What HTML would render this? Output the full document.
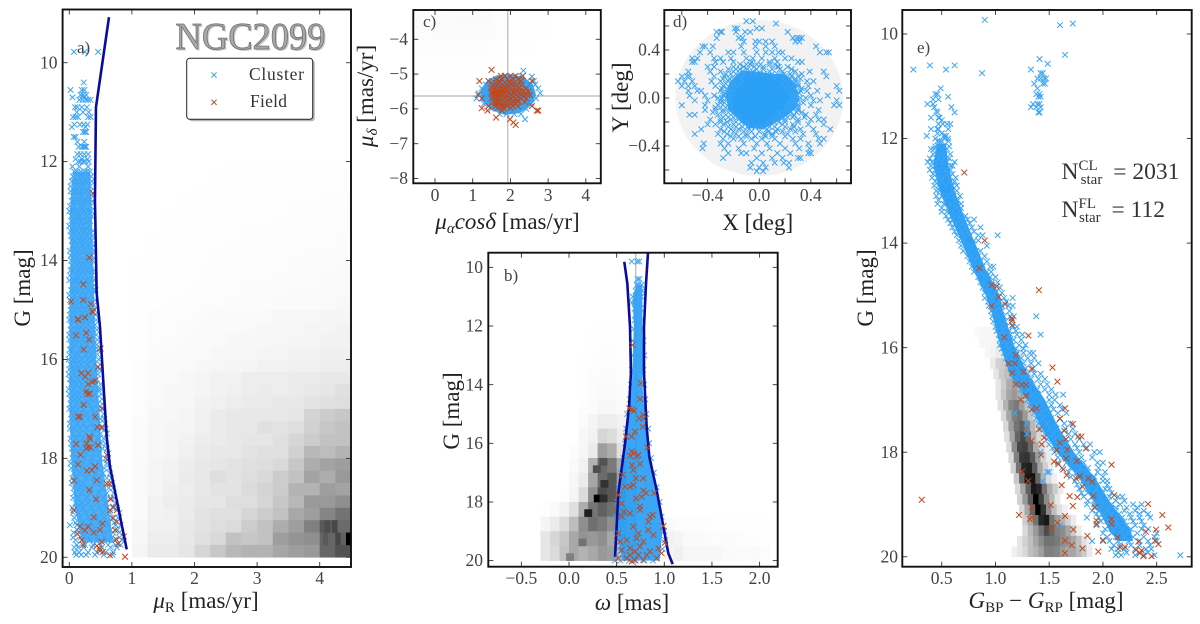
<!DOCTYPE html>
<html lang="en">
<head>
<meta charset="utf-8">
<title>NGC2099 membership panels</title>
<style>
html,body{margin:0;padding:0;background:#fff;width:1200px;height:624px;overflow:hidden}
svg{display:block;filter:blur(.35px)}
text{font-family:"Liberation Serif",serif;fill:#333}
.lab{font-size:23px;fill:#222}
.tick{font-size:17.5px;fill:#444}
.pl{font-size:17px;fill:#444}
</style>
</head>
<body>
<svg id="figure" xmlns="http://www.w3.org/2000/svg" width="1200" height="624" viewBox="0 0 1200 624">
<defs>
<clipPath id="clip-a"><rect x="62.6" y="9.5" width="288.4" height="557.5"/></clipPath>
<clipPath id="clip-b"><rect x="488.3" y="252.7" width="289.4" height="314"/></clipPath>
<clipPath id="clip-c"><rect x="413.3" y="10" width="187.5" height="173.3"/></clipPath>
<clipPath id="clip-d"><rect x="664.3" y="10" width="186.7" height="173.3"/></clipPath>
<clipPath id="clip-e"><rect x="902.3" y="10" width="289.4" height="556.7"/></clipPath>
</defs>
<g id="panel-a"></g>
<g id="panel-b"></g>
<g id="panel-c"></g>
<g id="panel-d"></g>
<g id="panel-e"></g>

<text class="lab" x="206" y="608" text-anchor="middle"><tspan font-style="italic">μ</tspan><tspan font-size="15" dy="4">R</tspan><tspan dy="-4"> [mas/yr]</tspan></text>
<text class="lab" transform="translate(30,288) rotate(-90)" text-anchor="middle">G [mag]</text>
<text class="lab" x="632" y="610" text-anchor="middle"><tspan font-style="italic">ω</tspan> [mas]</text>
<text class="lab" transform="translate(459,411) rotate(-90)" text-anchor="middle">G [mag]</text>
<text class="lab" x="507.5" y="229" text-anchor="middle"><tspan font-style="italic">μ</tspan><tspan font-size="15" font-style="italic" dy="4">α</tspan><tspan font-style="italic" dy="-4">cosδ</tspan> [mas/yr]</text>
<text class="lab" transform="translate(373,96) rotate(-90)" text-anchor="middle"><tspan font-style="italic">μ</tspan><tspan font-size="15" font-style="italic" dy="4">δ</tspan><tspan dy="-4"> [mas/yr]</tspan></text>
<text class="lab" x="757.7" y="230" text-anchor="middle">X [deg]</text>
<text class="lab" transform="translate(628,97.5) rotate(-90)" text-anchor="middle">Y [deg]</text>
<text class="lab" x="1046" y="608" text-anchor="middle"><tspan font-style="italic">G</tspan><tspan font-size="15" dy="4">BP</tspan><tspan dy="-4"> − </tspan><tspan font-style="italic">G</tspan><tspan font-size="15" dy="4">RP</tspan><tspan dy="-4"> [mag]</tspan></text>
<text class="lab" transform="translate(873,288) rotate(-90)" text-anchor="middle">G [mag]</text>

<text class="pl" x="77" y="53">a)</text>
<text class="pl" x="504" y="281">b)</text>
<text class="pl" x="423" y="27">c)</text>
<text class="pl" x="673" y="27">d)</text>
<text class="pl" x="917" y="53">e)</text>

<g>
<text x="177" y="50.5" font-size="38" textLength="150" lengthAdjust="spacingAndGlyphs" style="fill:#c8c8c8">NGC2099</text>
<text x="175.5" y="49" font-size="38" textLength="150" lengthAdjust="spacingAndGlyphs" style="fill:#a8a8a8;stroke:#707070;stroke-width:.8">NGC2099</text>
</g>

<g>
<rect x="188.7" y="60.3" width="126" height="61" rx="3" fill="#b5b5b5"/>
<rect x="186.7" y="58.3" width="126" height="61" rx="3" fill="#fff" stroke="#222" stroke-width="1"/>
<path d="M211.4 72.4L216.6 77.6M211.4 77.6L216.6 72.4" stroke="#3ca4f5" stroke-width="1"/>
<text x="249" y="80" font-size="17.5" textLength="55">Cluster</text>
<path d="M211.4 99.7L216.6 104.9M211.4 104.9L216.6 99.7" stroke="#c0481c" stroke-width="1"/>
<text x="250" y="107" font-size="17.5" textLength="37">Field</text>
</g>

<text x="1061.5" y="179" font-size="23.5" style="fill:#333">N<tspan font-size="15" dy="-9">CL</tspan><tspan font-size="15" dx="-17" dy="14">star</tspan><tspan dy="-5" dx="5"> = 2031</tspan></text>
<text x="1061.5" y="217" font-size="23.5" style="fill:#333">N<tspan font-size="15" dy="-9">FL</tspan><tspan font-size="15" dx="-17" dy="14">star</tspan><tspan dy="-5" dx="5"> = 112</tspan></text>
</svg>

<script>
/* ---------- panel a: proper motion vs G ---------- */
const pmLimitMu=[0.634,0.426,0.41,0.437,0.49,0.597,0.65,0.757,0.917];
const pmLimitG=[9.08,10.9,12.78,14.66,15.34,17.56,18.17,18.84,19.84];
const pmBandG=[12.2,13,14,15,16,17,18,19,19.7];
const pmBandLeft=[0.06,0.01,0.02,0.0,0.0,0.0,0.03,0.09,0.2];
const pmBandRight=[0.33,0.36,0.38,0.4,0.43,0.48,0.52,0.63,0.7];
const pmHeatMu0=1.0,pmHeatDmu=0.25,pmHeatG0=12,pmHeatDg=0.25;
const pmHeat=[
[0,0,0,0,0,0,.3,.3,.3,.3,.5,.5,.5,.5],[0,0,0,0,0,.3,.3,.3,.5,.5,.5,.5,.5,.5],[0,0,0,0,.3,.3,.3,.5,.5,.5,.5,.5,.7,.7],[0,0,0,.3,.3,.3,.5,.5,.5,.5,.7,.7,.7,.7],
[0,0,.3,.3,.3,.5,.5,.5,.5,.7,.7,.7,1,1],[0,0,.3,.3,.5,.5,.5,.7,.7,.7,1,1,1,1],[0,.3,.3,.5,.5,.5,.7,.7,.7,1,1,1,1,1.5],[0,.3,.3,.5,.5,.7,.7,1,1,1,1,1.5,1.5,1.5],
[.3,.3,.5,.5,.7,.7,1,1,1,1,1.5,1.5,1.5,2],[.3,.3,.5,.5,.7,1,1,1,1,1.5,1.5,1.5,2,2],[.3,.5,.5,.7,1,1,1,1.5,1.5,1.5,2,2,2,2.5],[.3,.5,.7,.7,1,1,1.5,1.5,1.5,2,2,2,2.5,3],
[.5,1,1,1,1.5,2,2,2,2.5,3,3,3,4,4],[.5,1,1,1.5,2,2,2,2.5,3,3,3.5,4,4,5],[.5,1,1.5,2,2,2.5,3,3,3,3.5,4,4,5,5],[.5,1.5,2,2,2.5,3,3,3.5,4,4,5,5,6,6],
[1,2,2,2.5,3,3.5,4,4,5,5,6,6,7,7],[1,2,2.5,3,4,5,5,7,7,7,8,8,9,9],[1,2,3,3,4,5,6,7,8,7,8,9,10,12],[1,2.5,3,3,5,6,7,8,8,9,9,11,12,13],
[1,3,3,4,6,8,9,9,9,9,10,17,20,22],[1.5,3,4,4,6,8,9,9,12,11,13,18,22,24],[1.5,3,4,5,7,8,9,10,10,12,16,20,24,24],[1.5,3,4,6,8,9,9,11,12,12,18,28,26,30],
[2,4,5,7,9,10,11,12,13,15,22,32,36,38],[2,4,5,8,9,13,11,13,15,20,24,36,32,40],[2,4,6,7,9,11,11,14,17,20,30,30,38,36],[2,5,7,8,10,10,13,13,16,22,28,40,40,44],
[2,5,6,8,11,12,12,16,20,24,34,38,48,55],[3,6,6,9,11,13,14,20,24,32,38,50,65,58],[3,7,7,9,12,15,24,22,24,38,42,44,60,62],[4,8,8,10,16,22,28,30,30,35,38,40,60,68]];
const pmHot=[[4.42,19.5,100],[4.08,19.25,70],[4.2,19.25,72],[4.05,19.5,65],[4.25,19.5,72]];
const pmCluster=[[9.78,[.075,.25,.46]],[10.4,[.23]],[10.55,[.02,.2,.24]],[10.65,[.18,.22,.27]],[10.75,[.16,.21,.26,.3,.34]],[10.9,[.09,.13,.2,.28]],[11.1,[.06,.1,.14,.3,.34]],[11.25,[.08,.17,.23,.29]],[11.4,[.22,.25,.27]],[11.5,[.07,.1]],[11.7,[.15,.2,.23,.25,.27]],[11.85,[.13,.18,.24,.3]],[12,[.14,.18,.22,.26,.31]],[12.2,[.08,.12,.18,.24,.28,.33]],[12.4,[.04,.08,.13,.19,.25,.3,.36]],
[12.6,[.02,.07,.11,.17,.22,.28,.34]],[12.8,[.04,.09,.15,.21,.26,.31,.37]],[13,[.0,.05,.1,.16,.23,.3,.35]],[13.2,[.03,.08,.14,.19,.27,.33]],[13.4,[.02,.06,.12,.2,.25,.32,.38]],[13.6,[.04,.09,.17,.22,.29,.36]],[13.8,[.01,.07,.13,.19,.26,.34,.4]],[14,[.03,.1,.16,.24,.3,.37]],[14.2,[.02,.06,.14,.21,.28,.35,.4]],[14.4,[.0,.08,.12,.18,.27,.33,.39]],[14.6,[.03,.09,.15,.23,.3,.38,.42]],[14.8,[.01,.06,.13,.2,.28,.35,.41]],[15,[.02,.08,.16,.25,.32,.4]],[15.2,[.0,.05,.11,.19,.27,.36,.43]],[15.4,[.02,.09,.15,.22,.31,.38,.44]],[15.6,[.0,.07,.13,.21,.29,.37,.45]],[15.8,[.01,.05,.17,.24,.33,.41,.46]],[16,[-.01,.06,.12,.2,.3,.38,.47]],[16.2,[.0,.08,.15,.26,.35,.43,.48]],[16.4,[.01,.05,.13,.22,.32,.4,.44]],[16.6,[-.01,.07,.18,.27,.38,.46,.5]],[16.8,[.02,.09,.16,.25,.34,.42,.52]],[17,[.0,.06,.14,.23,.36,.47,.54]],[17.2,[.03,.1,.19,.3,.44,.5,.56]],[17.4,[.01,.08,.17,.28,.4,.52,.58]],[17.6,[.02,.11,.21,.33,.46,.55]],[17.8,[.04,.09,.18,.3,.43,.53,.6]],[18,[.05,.13,.24,.36,.5,.58,.62]],[18.2,[.03,.1,.2,.32,.45,.56,.64]],[18.4,[.05,.12,.26,.38,.48,.6,.67]],[18.6,[.07,.16,.24,.35,.52,.63,.7]],[18.8,[.06,.14,.28,.42,.55,.66,.72]],[19,[.05,.11,.22,.36,.48,.6,.7,.76]],[19.2,[.08,.17,.3,.44,.56,.68,.78]],[19.35,[.01,.12,.25,.38,.5,.62,.74,.82]],[19.5,[.07,.15,.28,.42,.58,.7,.8]],[19.65,[.1,.2,.33,.46,.6,.72,.84]],[19.8,[.08,.14,.23,.36,.52,.66,.76]],[19.95,[.11,.19,.27,.41,.55,.69]]];
const pmClusterExtra=[[10.7,[.24,.05]],[11.0,[.12,.22,.31]],[11.3,[.04,.26]],[11.6,[.13,.24]],[11.95,[.1,.2,.29]],[12.1,[.05,.16,.3]],[12.3,[.06,.15,.21,.29,.35]],[12.5,[.02,.1,.16,.23,.33]],[12.7,[.05,.13,.2,.3,.38]],[12.9,[.01,.08,.18,.24,.34]],[13.1,[.03,.12,.17,.28,.36]],[13.3,[.0,.07,.15,.22,.31]],[13.5,[.03,.1,.18,.27,.37]],[13.7,[.05,.13,.21,.3,.39]],[13.9,[.02,.09,.16,.28,.36]],[14.1,[.04,.12,.19,.26,.34]],[14.3,[.01,.1,.17,.25,.37]],[14.5,[.05,.14,.22,.31,.4]],[14.7,[.0,.08,.18,.26,.36]],[14.9,[.04,.11,.2,.29,.39]],[15.1,[.01,.09,.17,.27,.35,.42]],[15.3,[.03,.13,.21,.3,.41]],[15.5,[.0,.06,.18,.26,.36,.43]],[15.7,[.03,.1,.2,.28,.39,.44]],[15.9,[.0,.08,.15,.27,.36,.45]],[16.1,[.02,.1,.19,.29,.4,.49]],[16.3,[-.01,.07,.16,.24,.37,.46]],[16.5,[.03,.11,.2,.3,.42,.5]],[16.7,[.0,.08,.15,.29,.4,.51]],[16.9,[.02,.12,.21,.32,.45,.53]],[17.1,[.04,.09,.17,.27,.41,.55]],[17.3,[.01,.13,.23,.35,.48,.57]],[17.5,[.05,.16,.26,.37,.5,.6]],[17.7,[.03,.12,.24,.4,.51,.58]],[17.9,[.06,.15,.27,.38,.48,.62]],[18.1,[.02,.11,.22,.34,.47,.6]],[18.3,[.07,.17,.29,.42,.54,.65]],[18.5,[.04,.14,.22,.4,.5,.68]],[18.7,[.08,.19,.33,.47,.6,.71]],[18.9,[.1,.2,.3,.45,.58,.74]],[19.1,[.06,.15,.26,.4,.53,.65,.8]],[19.3,[.1,.21,.35,.47,.6,.72]],[19.45,[.13,.24,.37,.5,.66,.77]],[19.6,[.06,.18,.3,.44,.56,.68,.8]],[19.75,[.12,.25,.38,.5,.62,.74,.82]],[19.9,[.09,.16,.3,.44,.58,.7]]];
const pmField=[[.38,12.64],[.32,13.94],[.225,14.48],[.027,14.83],[.225,14.8],[.347,14.88],[.37,15.02],[.14,15.19],[.25,15.15],[.14,15.2],[.38,15.04],[.11,15.51],[.27,15.46],[.32,15.6],[.23,15.8],[.5,15.78],[.46,16.15],[.19,16.28],[.3,16.28],[.25,16.35],[.41,16.43],[.37,16.45],[.3,16.5],[.27,16.65],[.33,16.69],[.29,16.7],[.23,16.92],[.52,16.99],[.14,17.16],[.17,17.16],[.41,17.16],[.45,17.37],[.52,17.37],[.32,17.56],[.33,17.6],[.11,17.71],[.28,17.7],[.3,17.77],[.27,17.8],[.34,17.78],[.46,17.73],[.18,17.93],[.6,17.93],[.61,18.03],[.14,18.12],[.28,18.25],[.36,18.24],[.41,18.16],[.07,18.45],[.44,18.44],[.6,18.51],[.64,18.51],[.32,18.64],[.43,18.83],[.66,18.83],[.7,18.98],[.07,19.05],[.65,19.05],[.76,19.05],[.39,19.19],[.53,19.32],[.7,19.21],[.76,19.28],[.17,19.38],[.3,19.38],[.25,19.46],[.13,19.53],[.39,19.5],[.49,19.45],[.73,19.45],[.87,19.58],[.75,19.64],[.2,19.65],[.22,19.75],[.44,19.77],[.48,19.82],[.54,19.89],[.49,19.87],[.78,19.73],[.65,19.96],[.89,19.99],[.52,19.69]];
const pmXTicks=[0,1,2,3,4];
const pmXLabels=["0","1","2","3","4"];
const pmYTicks=[10,12,14,16,18,20];
const pmYLabels=["10","12","14","16","18","20"];

/* ---------- panel b: parallax vs G ---------- */
const plxLeftOmega=[0.58,0.612,0.64,0.65,0.63,0.588,0.518,0.483];
const plxLeftG=[9.81,10.55,12.02,13.6,14.75,16.0,17.7,19.87];
const plxRightOmega=[0.829,0.808,0.787,0.787,0.815,0.843,0.92,0.99,1.042,1.088];
const plxRightG=[9.5,10.55,12.02,13.6,15.44,16.46,17.6,18.84,19.75,20.12];
const plxMeanOmega=0.7;
const plxBandG=[10.6,11,12,13,14,15,16,17,18,19,20];
const plxBandLeft=[.71,.67,.68,.67,.66,.63,.6,.56,.53,.5,.56];
const plxBandRight=[.77,.77,.77,.78,.77,.8,.83,.88,.93,.98,.95];
const plxHeatOmega0=-0.3,plxHeatDomega=0.1,plxHeatG0=12,plxHeatDg=0.5;
const plxHeat=[
[0,0,0,0,0,.3,.5,.5,.3,0],[0,0,0,0,0,.5,.7,.7,.5,0],[0,0,0,0,.3,.7,1,1,.7,.5],[0,0,0,0,.5,1,1.5,1.5,1,.5],[0,0,0,0,.5,1,2,2,1,.5],[0,0,0,0,.7,1.5,3,3,2,1],
[0,0,0,0,1.5,4,7,7,5,3],[0,0,0,0,3,5,16,14,8,4],[0,0,0,1,3,8,38,32,12,5],[0,0,0,2,5,30,58,52,32,10],[0,0,0,3,8,35,58,66,38,15],[0,0,1,4,14,44,70,66,38,15],[.5,2,5,12,32,54,62,56,38,20],[4,8,14,26,44,56,52,44,28,15],[10,16,22,34,42,40,44,34,26,15],[10,14,24,34,30,34,40,38,24,10]];
const plxFarOmega0=1.0,plxFarDomega=0.1,plxFarG0=18.5,plxFarDg=0.5;
const plxFar=[[2,1,1,1,.7,.5,.5,.3,.3,.3,.3],[5,4,2,2,1.5,1,1.5,1,.7,.7,.5],[4,6,3,3,3,3,2,2,1.5,2,1]];
const plxHot=[[.26,17.75,100],[.32,17.75,82],[.16,18.25,88],[.32,16.5,68],[.25,16.75,70],[.33,17.25,80],[.1,19.25,55],[-.03,19.75,50]];
const plxCluster=[[9.8,[.658,.717,.738]],[10.4,[.72,.74]],[10.6,[.71,.73,.76]],[10.8,[.7,.73,.77]],[11,[.67,.7,.74,.76]],[11.2,[.66,.69,.73]],[11.4,[.69,.72,.75]],[11.6,[.7,.74]],[11.8,[.69,.72,.76]],[12.1,[.68,.71,.75,.77]],[12.5,[.67,.72,.78]],[13,[.67,.73,.79]],[13.5,[.66,.71,.78]],[14,[.65,.72,.79]],[14.5,[.64,.7,.78,.8]],[15,[.61,.66,.75,.81]],[15.5,[.6,.68,.77,.83]],[16,[.59,.66,.76,.84]],[16.5,[.57,.62,.78,.86]],[17,[.54,.6,.8,.89]],[17.5,[.52,.58,.82,.92]],[18,[.51,.57,.84,.95]],[18.5,[.49,.55,.88,.97]],[19,[.49,.54,.9,1.0]],[19.3,[.5,.58,.72,.86,.94,1.01]],[19.6,[.52,.6,.7,.82,.9,.98]],[19.8,[.5,.57,.66,.74,.85,.93]],[20,[.48,.54,.63,.7,.79,.88]]];
const plxField=[[.665,12.65],[.752,13.95],[.745,14.49],[.633,14.81],[.658,14.86],[.78,15.03],[.682,14.89],[.738,15.15],[.78,15.15],[.773,15.43],[.693,15.6],[.598,15.77],[.658,15.77],[.822,16.14],[.658,16.28],[.682,16.34],[.64,16.43],[.71,16.45],[.728,16.4],[.658,16.74],[.675,16.91],[.745,16.7],[.563,17.08],[.703,17.19],[.78,17.19],[.64,17.48],[.588,17.48],[.675,17.42],[.892,17.7],[.518,17.76],[.762,17.82],[.78,17.61],[.808,17.7],[.553,18.05],[.703,17.88],[.745,18.16],[.745,18.27],[.577,18.33],[.64,18.39],[.553,18.5],[.85,18.5],[.878,18.44],[.832,18.67],[.99,18.82],[.518,19.07],[.675,18.84],[.728,19.07],[.832,18.95],[1.007,19.39],[.535,19.35],[.605,19.3],[.71,19.24],[.78,19.35],[.885,19.13],[.64,19.58],[.745,19.52],[.85,19.69],[.937,19.58],[.553,19.64],[.693,19.69],[.815,19.81],[.972,19.75],[.605,19.92],[.658,20.03],[.728,19.81],[.518,19.92],[.78,19.98],[.92,19.92],[.64,19.81],[.693,19.98]];
const plxXTicks=[-0.5,0,0.5,1,1.5,2];
const plxXLabels=["−0.5","0.0","0.5","1.0","1.5","2.0"];
const plxYTicks=[10,12,14,16,18,20];
const plxYLabels=["10","12","14","16","18","20"];

/* ---------- panel c: vector point diagram ---------- */
const vpdMeanAlpha=1.93;
const vpdMeanDelta=-5.63;
const vpdHeatAlpha0=-0.5,vpdHeatDalpha=0.5,vpdHeatDelta0=-5,vpdHeatDdelta=0.5;
const vpdHeat=[[.3,.3,.3,.3,.2,0,0,0,0,0],[.7,.7,.7,.7,.5,.3,0,0,0,0],[1,1.5,1.5,1.5,1,.5,.3,0,0,0],[1,1.5,2,2,1,.5,.3,0,0,0]];
const vpdHullAlpha=[1.22,1.4,1.65,2.0,2.35,2.6,2.68,2.55,2.25,1.85,1.48,1.22];
const vpdHullDelta=[-5.42,-5.17,-5.03,-5.0,-5.08,-5.3,-5.6,-5.9,-6.12,-6.17,-6.02,-5.72];
const vpdCluster=[[-4.9,[2.345]],[-5.07,[1.9,2.1,2.3,2.57]],[-5.2,[1.5,1.72,2.2,2.45,2.62]],[-5.3,[1.35,1.6,2.05,2.5,2.66]],[-5.41,[1.24,1.45,1.9,2.35,2.74]],[-5.55,[1.16,1.32,1.75,2.42,2.79]],[-5.7,[1.1,1.28,1.55,2.55,2.68]],[-5.85,[1.3,1.48,2.3,2.56]],[-6.0,[1.5,1.75,2.0,2.22,2.42]],[-6.15,[1.72,1.9,2.1,2.28]],[-6.3,[2.39]]];
const vpdField=[[-4.88,[1.5]],[-5.05,[1.75,1.85,2.0,2.14,2.33]],[-5.15,[1.62,1.78,1.92,2.08,2.2]],[-5.2,[1.18,1.42,1.7,1.98,2.28,2.57]],[-5.3,[1.55,1.65,1.8,1.9,2.02,2.15,2.3]],[-5.4,[1.48,1.58,1.68,1.76,1.86,2.0,2.12,2.24,2.42]],[-5.5,[1.5,1.6,1.66,1.74,1.82,1.94,2.08,2.2,2.36,2.48]],[-5.6,[1.15,1.54,1.62,1.7,1.78,1.9,2.02,2.16,2.3,2.45,2.52]],[-5.7,[1.24,1.5,1.6,1.68,1.76,1.86,2.0,2.14,2.28,2.42]],[-5.8,[1.58,1.66,1.74,1.84,1.96,2.1,2.2,2.38]],[-5.92,[1.42,1.6,1.72,1.8,1.92,2.05,2.2,2.57]],[-5.98,[1.24,1.66,1.82,2.0]],[-6.05,[1.39,1.78,2.7,2.74]],[-6.25,[1.62]],[-6.3,[1.99]],[-6.39,[2.08]],[-6.46,[2.14]]];
const vpdFieldCore=[[-5.25,[1.6,1.72,1.85,1.96,2.1]],[-5.35,[1.52,1.62,1.72,1.83,1.94,2.06,2.18]],[-5.45,[1.55,1.63,1.71,1.79,1.9,2.04,2.16,2.3]],[-5.55,[1.52,1.6,1.68,1.75,1.84,1.96,2.1,2.26,2.4]],[-5.65,[1.56,1.64,1.72,1.8,1.94,2.08,2.22,2.35]],[-5.75,[1.54,1.62,1.7,1.8,1.92,2.06,2.2]],[-5.85,[1.6,1.7,1.8,1.9,2.02,2.16]]];
const vpdXTicks=[0,1,2,3,4];
const vpdXLabels=["0","1","2","3","4"];
const vpdYTicks=[-4,-5,-6,-7,-8];
const vpdYLabels=["−4","−5","−6","−7","−8"];

/* ---------- panel d: sky map ---------- */
const skyFieldRadius=0.65;
const skyHullX=[-.26,-.23,-.14,-.02,.12,.2,.28,.31,.28,.2,.12,.03,-.08,-.16,-.24];
const skyHullY=[.03,.13,.23,.22,.2,.2,.11,-.01,-.09,-.16,-.21,-.26,-.25,-.18,-.1];
const skyCluster=[[.64,[-.1,-.05]],[.62,[.13]],[.58,[-.19,-.17,-.02,.02]],[.55,[-.33,-.3,-.29,-.18,-.11,-.07,.22]],[.5,[-.33,-.16,-.13,.26,.29,.31,.33]],[.47,[-.12,-.03,0,.05,.1,.28,.31]],[.43,[-.44,-.42,-.36,-.14,-.03,.05,.12,.44]],[.38,[-.46,-.38,-.24,-.2,-.12,-.02,.05,.1,.15,.18,.47,.52,.54]],[.33,[-.52,-.48,-.35,-.3,-.22,-.1,-.05,.02,.12,.2,.25]],[.3,[-.52,-.5,-.34,-.28,-.2,-.06,.08,.14,.3,.33]],[.26,[-.4,-.35,-.2,-.12,-.04,.03,.14,.15,.22]],[.22,[-.55,-.38,-.3,-.2,-.13,-.05,.08,.18,.28,.39,.5]],[.18,[-.6,-.56,-.54,-.35,-.27,-.16,.2,.25,.3,.52]],[.14,[-.63,-.58,-.52,-.37,-.3,-.24,.28,.37,.42]],[.1,[-.6,-.55,-.5,-.34,-.28,.3,.38,.6]],[.06,[-.55,-.48,-.45,-.3,.32,.37,.45,.62]],[.02,[-.54,-.42,-.35,-.28,.28,.4,.53]],[-.02,[-.5,-.4,-.3,.3,.42,.47,.6]],[-.06,[-.6,-.42,-.32,.3,.4,.58,.62]],[-.1,[-.42,-.34,-.28,.3,.46]],[-.14,[-.54,-.5,-.32,.27,.36,.44]],[-.18,[-.38,-.3,-.22,.2,.3,.4,.46,.5]],[-.22,[-.4,-.34,-.28,-.2,.18,.26,.38,.5]],[-.26,[-.45,-.3,-.22,-.16,-.08,.06,.14,.24,.32,.42,.55]],[-.3,[-.5,-.32,-.25,-.18,-.1,.04,.1,.22,.34,.44]],[-.34,[-.28,-.2,-.14,-.06,.02,.12,.26,.32,.46,.5]],[-.38,[-.43,-.3,-.24,-.12,-.02,.06,.16,.28,.38,.47]],[-.42,[-.44,-.27,-.16,-.04,.08,.2,.31,.39]],[-.46,[-.24,-.1,-.14,.02,.14,.24,.38,.4]],[-.5,[-.28,-.02,.1,.18,.3,.32]],[-.54,[-.06,.03,.12,.19,.23]],[-.58,[-.07,.0,.05,.23]],[-.61,[-.02,.03]]];
const skyClusterCore=[[.28,[-.15,-.1,-.07,-.02,.01,.08,.12]],[.24,[-.24,-.18,-.15,-.09,-.02,.03,.1,.16,.25]],[.2,[-.26,-.22,-.18,-.12,-.07,-.02,.04,.1,.14,.19,.24,.33]],[.16,[-.28,-.23,-.2,-.14,.12,.18,.24,.32,.28]],[.12,[-.26,-.22,-.19,-.14,.18,.22,.27,.3]],[.08,[-.29,-.25,-.22,-.18,.2,.24,.28,.33]],[.04,[-.27,-.24,-.21,.24,.27,.31]],[0,[-.32,-.29,-.25,-.22,.25,.28,.32,.36]],[-.04,[-.3,-.27,-.23,.23,.26,.29,.34]],[-.08,[-.34,-.3,-.26,-.22,.21,.25,.3]],[-.12,[-.36,-.28,-.24,-.2,.16,.2,.24,.29,.33]],[-.16,[-.28,-.24,-.2,-.16,.13,.17,.22,.26,.35]],[-.2,[-.3,-.25,-.18,-.14,-.1,.06,.11,.15,.2,.3]],[-.24,[-.24,-.18,-.13,-.09,-.03,.02,.08,.12,.2,.27]],[-.28,[-.27,-.2,-.12,-.06,0,.07,.13,.18,.28]],[-.32,[-.22,-.16,-.1,-.03,.05,.1,.2]]];
const skyXTicks=[-.6,-.4,-.2,0,.2,.4,.6];
const skyXLabels=["","−0.4","","0.0","","0.4",""];
const skyYTicks=[.6,.4,.2,0,-.2,-.4,-.6];
const skyYLabels=["","0.4","","0.0","","−0.4",""];

/* ---------- panel e: colour-magnitude diagram ---------- */
const cmdHeatDcolor=0.05,cmdHeatDg=0.2;
const cmdHeatRowG=[15.6,15.8,16,16.2,16.4,16.6,16.8,17,17.2,17.4,17.6,17.8,18,18.2,18.4,18.6,18.8,19,19.2,19.4,19.6,19.8];
const cmdHeatRowColor=[.8,.85,.9,.95,.98,1,1,1.02,1.05,1.07,1.08,1.1,1.12,1.14,1.17,1.18,1.2,1.22,1.25,1.25,1.2,1.15];
const cmdHeatRowVals=[[2,3,3,3,4,5],[3,3,4,5,6],[3,5,8,10,12,14,8,4,2],[8,18,20,22,18,10,5,3],[10,20,25,30,22,14,8,4],[10,20,32,38,30,20,10,5],[10,22,35,40,32,22,12,6,3],[12,30,48,52,38,24,12,6,3],[15,35,50,55,40,22,12,6],[15,38,55,62,50,28,14,6],[12,35,60,72,58,30,15,6],[14,45,72,75,60,32,16,8],[15,50,78,80,65,38,18,8],[18,55,85,88,65,35,18,8],[22,60,90,92,60,30,14,6],[15,35,62,90,85,55,32,20,8],[18,40,65,100,75,45,28,10],[15,35,60,100,80,45,25,12,6],[20,35,55,85,90,55,38,30,18,8],[15,28,40,55,70,60,50,45,35,20,8],[10,18,25,35,45,55,55,52,45,42,35,25,12,6],[6,10,15,25,30,38,50,50,48,40,35,35,28,20,8]];
const cmdBandG=[12.1,12.5,13,13.5,14,14.5,15,15.3,16,16.5,17,17.5,18,18.5,19,19.5,19.7];
const cmdBandLeft=[.46,.42,.48,.58,.69,.79,.91,.96,1.05,1.13,1.3,1.42,1.57,1.78,1.93,2.06,2.14];
const cmdBandRight=[.54,.56,.62,.71,.81,.91,1.04,1.07,1.18,1.3,1.46,1.58,1.73,1.93,2.08,2.26,2.28];
const cmdCluster=[[9.73,[.9]],[9.8,[1.72]],[9.83,[1.6]],[10.4,[1.647]],[10.48,[1.41]],[10.57,[1.486]],[10.6,[.39,.62]],[10.68,[.236,.54,1.33]],[10.75,[.875,1.42,1.44]],[10.85,[1.39,1.42,1.45,1.47]],[10.95,[1.36,1.44,1.46]],[11.04,[.49,1.39]],[11.15,[.46,.44,1.38,1.41]],[11.2,[.56,1.4,1.42]],[11.34,[.367,.42,1.35,1.39,1.41]],[11.4,[.43,.59,1.33,1.38,1.42]],[11.5,[.62,.46,1.4,1.41]],[11.6,[.4,.48,.47]],[11.72,[.47,.51,.55,.58]],[11.82,[.4,.46,.56,.47]],[11.95,[.36,.52,.54]],[12.05,[.46,.48,.5,.56]],[12.15,[.44,.47,.52,.57]],[12.3,[.42,.45,.49,.53,.58]],[12.45,[.37,.41,.45,.5,.55,.62]],[12.6,[.39,.44,.48,.53,.58]],[12.75,[.41,.46,.51,.57,.63]],[12.9,[.43,.47,.54,.6,.64]],[13.1,[.45,.5,.56,.61,.67]],[13.25,[.46,.52,.58,.64,.68]],[13.4,[.5,.55,.6,.66]],[13.55,[.56,.6,.68,.74,.8]],[13.7,[.6,.66,.72,.78,.86]],[13.85,[.64,.7,.76,.84,.88,1.02]],[14.05,[.68,.74,.78,.92]],[14.25,[.74,.78,.84,.9]],[14.45,[.78,.84,.88,.95,.98]],[14.65,[.84,.9,.95,1.0]],[14.85,[.88,.93,.98,1.04]],[15.05,[.9,.96,1.02,1.08,1.16]],[15.2,[.94,.98,1.06,1.12,1.16]],[15.4,[.97,1.02,1.08,1.14,1.17,1.38]],[15.6,[1,1.05,1.1,1.16,1.2]],[15.75,[1.03,1.08,1.14,1.2,1.25,1.42]],[15.95,[1.04,1.1,1.16,1.22,1.28]],[16.1,[1.08,1.13,1.2,1.26,1.32,1.35]],[16.3,[1.12,1.18,1.26,1.33,1.4]],[16.5,[1.16,1.22,1.3,1.36,1.42]],[16.7,[1.22,1.28,1.35,1.42,1.48]],[16.9,[1.26,1.34,1.4,1.5,1.56,1.63]],[17.1,[1.32,1.38,1.44,1.52,1.6]],[17.25,[1.18,1.36,1.42,1.5,1.58,1.66]],[17.45,[1.29,1.4,1.48,1.56,1.64,1.7]],[17.65,[1.29,1.46,1.54,1.6,1.68,1.74]],[17.85,[1.5,1.58,1.64,1.74,1.82,1.88]],[18,[1.42,1.55,1.62,1.7,1.78,1.92,1.97]],[18.2,[1.58,1.66,1.72,1.82,1.95,2.0]],[18.38,[1.48,1.5,1.68,1.76,1.85,1.95,2.02]],[18.55,[1.44,1.74,1.82,1.9,2.0,2.04]],[18.7,[1.78,1.86,1.94,2.02,2.06]],[18.85,[1.82,1.9,1.98,2.06,2.14,2.18]],[19,[1.85,1.92,2.0,2.08,2.16,2.28,2.36]],[19.12,[1.9,1.96,2.04,2.12,2.2,2.3,2.38]],[19.25,[1.85,1.96,2.02,2.1,2.18,2.26,2.34,2.44]],[19.4,[1.6,1.94,2.06,2.14,2.22,2.3,2.38]],[19.55,[2.0,2.08,2.16,2.24,2.32,2.5]],[19.7,[1.9,2.0,2.06,2.14,2.24,2.34,2.42,2.5]],[19.85,[2.08,2.14,2.2,2.3,2.4,2.45]],[19.97,[2.12,2.17,2.3,2.38,2.48,2.72]]];
const cmdClusterExtra=[[11.25,[.47,.42]],[11.48,[.45]],[11.65,[.5]],[11.9,[.46,.5]],[12.0,[.44,.53,.56]],[12.2,[.4,.43,.5,.55]],[12.38,[.39,.47,.52,.57]],[12.52,[.4,.44,.58,.6]],[12.68,[.42,.47,.55,.6]],[12.82,[.44,.5,.58,.62]],[13.0,[.45,.48,.6,.64]],[13.18,[.47,.53,.62,.65]],[13.33,[.5,.56,.63,.68]],[13.48,[.54,.6,.66,.72]],[13.62,[.58,.63,.7,.76]],[13.78,[.62,.68,.74,.8]],[13.95,[.66,.7,.8,.84]],[14.15,[.7,.76,.82,.86]],[14.35,[.76,.8,.86,.92]],[14.55,[.8,.86,.92,.96]],[14.75,[.86,.9,.97,1.02]],[14.95,[.9,.94,1.0,1.06]],[15.12,[.93,.97,1.04,1.1]],[15.3,[.96,1.0,1.06,1.13]],[15.5,[.98,1.03,1.09,1.15]],[15.68,[1.01,1.07,1.13,1.19]],[15.85,[1.04,1.09,1.17,1.24]],[16.02,[1.06,1.12,1.19,1.26]],[16.2,[1.1,1.15,1.24,1.3,1.36]],[16.4,[1.14,1.2,1.28,1.35]],[16.6,[1.2,1.26,1.33,1.4,1.46]],[16.8,[1.24,1.31,1.39,1.46,1.52]],[17.0,[1.3,1.36,1.42,1.5,1.55]],[17.18,[1.34,1.4,1.47,1.54,1.62]],[17.35,[1.38,1.44,1.52,1.6]],[17.55,[1.42,1.5,1.57,1.65,1.72]],[17.75,[1.48,1.55,1.62,1.7,1.78]],[17.92,[1.53,1.6,1.67,1.76,1.85]],[18.1,[1.58,1.64,1.72,1.8,1.9]],[18.3,[1.62,1.7,1.78,1.86,1.96]],[18.47,[1.7,1.76,1.84,1.92,2.0]],[18.62,[1.76,1.82,1.88,1.95,2.04]],[18.78,[1.8,1.86,1.92,2.0,2.08]],[18.93,[1.86,1.92,1.98,2.05,2.12,2.2]],[19.06,[1.92,1.98,2.05,2.12,2.22,2.32]],[19.18,[1.94,2.0,2.08,2.15,2.25,2.34,2.42]],[19.32,[1.98,2.04,2.12,2.2,2.28,2.36]],[19.47,[2.02,2.1,2.18,2.26,2.36,2.42]],[19.62,[2.04,2.12,2.2,2.28,2.38,2.48]],[19.78,[2.1,2.16,2.26,2.34,2.44]],[19.92,[2.14,2.22,2.34,2.42]]];
const cmdField=[[.71,12.65],[.9,13.95],[.85,14.48],[.965,14.8],[1.01,14.83],[1.03,15.03],[1.09,15.17],[.965,15.2],[1.405,14.9],[1.15,15.44],[1.157,15.47],[1.157,15.57],[1.306,15.77],[1.083,15.8],[1.19,16.14],[1.53,16.38],[1.18,16.3],[1.12,16.3],[1.26,16.46],[1.337,16.41],[1.157,16.48],[1.576,16.65],[1.19,16.7],[1.244,16.71],[1.285,16.71],[1.285,16.92],[1.235,17.0],[1.647,17.16],[1.337,17.18],[1.384,17.16],[1.6,17.36],[1.72,17.46],[1.64,17.59],[1.405,17.56],[1.77,17.7],[1.8,17.7],[1.657,17.75],[1.452,17.72],[1.337,17.78],[1.43,17.85],[1.6,17.82],[1.84,17.93],[1.669,17.95],[1.57,17.96],[1.424,18.05],[1.657,18.12],[1.756,18.17],[1.545,18.18],[1.585,18.23],[2.08,18.24],[1.63,18.33],[1.247,18.37],[1.663,18.44],[1.75,18.5],[1.787,18.46],[1.306,18.55],[1.864,18.5],[1.9,18.56],[1.616,18.63],[1.81,18.66],[1.69,18.84],[1.762,18.86],[1.91,18.84],[2.106,18.82],[.314,18.91],[1.72,19.03],[1.514,19.01],[1.337,19.05],[1.926,19.05],[2.42,18.99],[1.22,19.2],[2.553,19.2],[1.337,19.25],[1.32,19.28],[1.647,19.22],[1.576,19.35],[2.08,19.28],[1.94,19.31],[1.94,19.37],[2.08,19.37],[1.523,19.46],[1.725,19.48],[2.608,19.44],[2.494,19.48],[2.4,19.52],[1.855,19.6],[2.137,19.63],[1.647,19.69],[2.0,19.68],[2.485,19.69],[2.516,19.76],[2.33,19.71],[1.71,19.78],[2.205,19.81],[2.16,19.82],[1.81,19.84],[1.957,19.9],[1.647,19.93],[2.308,19.87],[2.36,19.88],[2.376,19.99],[2.453,19.99],[2.345,19.93]];
const cmdXTicks=[.5,1,1.5,2,2.5];
const cmdXLabels=["0.5","1.0","1.5","2.0","2.5"];
const cmdYTicks=[10,12,14,16,18,20];
const cmdYLabels=["10","12","14","16","18","20"];

/* ---------- drawing helpers ---------- */
const NS='http://www.w3.org/2000/svg';
const CLUSTER='#3ca4f5',FIELD='#c0481c',LIMIT='#0b0b9c';

function makeAxes(groupId,clipId,box,xDomain,yDomain){
  const host=document.getElementById(groupId);
  const plot=document.createElementNS(NS,'g');
  plot.setAttribute('clip-path','url(#'+clipId+')');
  
  
  host.appendChild(plot);
  const sx=v=>box.left+(v-xDomain[0])/(xDomain[1]-xDomain[0])*(box.right-box.left);
  const sy=v=>box.top+(v-yDomain[0])/(yDomain[1]-yDomain[0])*(box.bottom-box.top);
  return {host,plot,box,sx,sy};
}
function heatCell(ax,x0,x1,y0,y1,d){
  if(d<=0)return;
  const r=document.createElementNS(NS,'rect');
  const g=Math.round(255*(1-d/100));
  const a=ax.sx(x0),b=ax.sx(x1),c=ax.sy(y0),e=ax.sy(y1);
  r.setAttribute('x',Math.min(a,b));
  r.setAttribute('y',Math.min(c,e));
  r.setAttribute('width',Math.abs(b-a)+.3);
  r.setAttribute('height',Math.abs(e-c)+.3);
  r.setAttribute('fill','rgb('+g+','+g+','+g+')');
  
  
  ax.plot.appendChild(r);
}
function heatGrid(ax,x0,dx,y0,dy,rows){
  rows.forEach((row,j)=>row.forEach((d,i)=>heatCell(ax,x0+i*dx,x0+(i+1)*dx,y0+j*dy,y0+(j+1)*dy,d)));
}
function refLine(ax,x1,y1,x2,y2){
  const l=document.createElementNS(NS,'line');
  l.setAttribute('x1',ax.sx(x1));
  l.setAttribute('y1',ax.sy(y1));
  l.setAttribute('x2',ax.sx(x2));
  l.setAttribute('y2',ax.sy(y2));
  l.setAttribute('stroke','#b8b8b8');
  l.setAttribute('stroke-width','1.2');
  
  
  ax.plot.appendChild(l);
}
function densityPolygon(ax,xs,ys,opacity){
  const p=document.createElementNS(NS,'polygon');
  p.setAttribute('points',xs.map((x,i)=>ax.sx(x)+','+ax.sy(ys[i])).join(' '));
  p.setAttribute('fill','#1e9af5');
  p.setAttribute('opacity',opacity);
  
  
  ax.plot.appendChild(p);
}
function bandPolygon(ax,gs,left,right,opacity){
  densityPolygon(ax,left.concat(right.slice().reverse()),gs.concat(gs.slice().reverse()),opacity);
}
function crossPath(x,y,s){return 'M'+(x-s)+' '+(y-s)+'L'+(x+s)+' '+(y+s)+'M'+(x-s)+' '+(y+s)+'L'+(x+s)+' '+(y-s);}
function clusterStar(ax,x,y){
  const m=document.createElementNS(NS,'path');
  m.setAttribute('d',crossPath(ax.sx(x),ax.sy(y),2.8));
  m.setAttribute('stroke',CLUSTER);
  m.setAttribute('fill','none');
  
  
  ax.plot.appendChild(m);
}
function fieldStar(ax,x,y){
  const m=document.createElementNS(NS,'path');
  m.setAttribute('d',crossPath(ax.sx(x),ax.sy(y),2.9));
  m.setAttribute('stroke',FIELD);
  m.setAttribute('fill','none');
  
  
  ax.plot.appendChild(m);
}
function limitLine(ax,xs,ys){
  const p=document.createElementNS(NS,'polyline');
  p.setAttribute('points',xs.map((x,i)=>ax.sx(x)+','+ax.sy(ys[i])).join(' '));
  p.setAttribute('fill','none');
  p.setAttribute('stroke',LIMIT);
  p.setAttribute('stroke-width','2.6');
  p.setAttribute('stroke-linejoin','round');
  
  
  ax.plot.appendChild(p);
}
function frameAndTicks(ax,xVals,xLabs,yVals,yLabs,xBase,yRight){
  const b=ax.box;
  const addTick=(x1,y1,x2,y2)=>{
    const t=document.createElementNS(NS,'line');
    t.setAttribute('x1',x1);
    t.setAttribute('y1',y1);
    t.setAttribute('x2',x2);
    t.setAttribute('y2',y2);
    t.setAttribute('stroke','#333');
    t.setAttribute('stroke-width','.9');
    
    
    ax.host.appendChild(t);
  };
  xVals.forEach((v,i)=>{
    const x=ax.sx(v);
    addTick(x,b.bottom,x,b.bottom-5);
    addTick(x,b.top,x,b.top+5);
    if(xLabs[i]){
      const t=document.createElementNS(NS,'text');
      t.setAttribute('x',x);
      t.setAttribute('y',xBase);
      t.setAttribute('text-anchor','middle');
      t.setAttribute('class','tick');
      
      
      t.textContent=xLabs[i];
      ax.host.appendChild(t);
    }
  });
  yVals.forEach((v,i)=>{
    const y=ax.sy(v);
    addTick(b.left,y,b.left+5,y);
    addTick(b.right,y,b.right-5,y);
    if(yLabs[i]){
      const t=document.createElementNS(NS,'text');
      t.setAttribute('x',yRight);
      t.setAttribute('y',y+5.6);
      t.setAttribute('text-anchor','end');
      t.setAttribute('class','tick');
      
      
      t.textContent=yLabs[i];
      ax.host.appendChild(t);
    }
  });
  const f=document.createElementNS(NS,'rect');
  f.setAttribute('x',b.left);
  f.setAttribute('y',b.top);
  f.setAttribute('width',b.right-b.left);
  f.setAttribute('height',b.bottom-b.top);
  f.setAttribute('fill','none');
  f.setAttribute('stroke','#111');
  f.setAttribute('stroke-width','1.9');
  
  
  ax.host.appendChild(f);
}
function rowsCluster(ax,rows){
  rows.forEach(r=>r[1].forEach(v=>clusterStar(ax,v,r[0])));
}
function rowsField(ax,rows){
  rows.forEach(r=>r[1].forEach(v=>fieldStar(ax,v,r[0])));
}

/* ---------- panel a ---------- */
(function(){
  const ax=makeAxes('panel-a','clip-a',{left:62.6,right:351,top:9.5,bottom:567},[-0.107,4.5],[8.924,20.197]);
  heatGrid(ax,pmHeatMu0,pmHeatDmu,pmHeatG0,pmHeatDg,pmHeat);
  pmHot.forEach(c=>heatCell(ax,c[0],c[0]+.08,c[1],c[1]+.25,c[2]));
  bandPolygon(ax,pmBandG,pmBandLeft,pmBandRight,.78);
  rowsCluster(ax,pmCluster);
  rowsCluster(ax,pmClusterExtra);
  pmField.forEach(p=>fieldStar(ax,p[0],p[1]));
  limitLine(ax,pmLimitMu,pmLimitG);
  frameAndTicks(ax,pmXTicks,pmXLabels,pmYTicks,pmYLabels,584,57.5);
})();
/* ---------- panel b ---------- */
(function(){
  const ax=makeAxes('panel-b','clip-b',{left:488.3,right:777.7,top:252.7,bottom:566.7},[-0.847,2.19],[9.5,20.207]);
  heatGrid(ax,plxHeatOmega0,plxHeatDomega,plxHeatG0,plxHeatDg,plxHeat);
  heatGrid(ax,plxFarOmega0,plxFarDomega,plxFarG0,plxFarDg,plxFar);
  plxHot.forEach(c=>heatCell(ax,c[0],c[0]+.08,c[1],c[1]+.25,c[2]));
  refLine(ax,plxMeanOmega,9.5,plxMeanOmega,20.2);
  bandPolygon(ax,plxBandG,plxBandLeft,plxBandRight,.88);
  rowsCluster(ax,plxCluster);
  limitLine(ax,plxLeftOmega,plxLeftG);
  limitLine(ax,plxRightOmega,plxRightG);
  plxField.forEach(p=>fieldStar(ax,p[0],p[1]));
  frameAndTicks(ax,plxXTicks,plxXLabels,plxYTicks,plxYLabels,584,483);
})();
/* ---------- panel c ---------- */
(function(){
  const ax=makeAxes('panel-c','clip-c',{left:413.3,right:600.8,top:10,bottom:183.3},[-0.576,4.398],[-3.158,-8.138]);
  vpdHeat.forEach((row,j)=>row.forEach((d,i)=>heatCell(ax,vpdHeatAlpha0+i*vpdHeatDalpha,vpdHeatAlpha0+(i+1)*vpdHeatDalpha,vpdHeatDelta0+j*vpdHeatDdelta,vpdHeatDelta0+(j+1)*vpdHeatDdelta,d)));
  refLine(ax,vpdMeanAlpha,-3.158,vpdMeanAlpha,-8.138);
  refLine(ax,-0.576,vpdMeanDelta,4.398,vpdMeanDelta);
  densityPolygon(ax,vpdHullAlpha,vpdHullDelta,.9);
  rowsCluster(ax,vpdCluster);
  rowsField(ax,vpdField);
  rowsField(ax,vpdFieldCore);
  frameAndTicks(ax,vpdXTicks,vpdXLabels,vpdYTicks,vpdYLabels,201,408);
})();
/* ---------- panel d ---------- */
(function(){
  const ax=makeAxes('panel-d','clip-d',{left:664.3,right:851,top:10,bottom:183.3},[-0.736,0.711],[0.733,-0.711]);
  const disk=document.createElementNS(NS,'ellipse');
  disk.setAttribute('cx',ax.sx(0));
  disk.setAttribute('cy',ax.sy(0));
  disk.setAttribute('rx',Math.abs(ax.sx(skyFieldRadius)-ax.sx(0)));
  disk.setAttribute('ry',Math.abs(ax.sy(skyFieldRadius)-ax.sy(0)));
  disk.setAttribute('fill','#f2f2f2');
  
  
  ax.plot.appendChild(disk);
  densityPolygon(ax,skyHullX,skyHullY,.95);
  rowsCluster(ax,skyCluster);
  rowsCluster(ax,skyClusterCore);
  frameAndTicks(ax,skyXTicks,skyXLabels,skyYTicks,skyYLabels,201,660);
})();
/* ---------- panel e ---------- */
(function(){
  const ax=makeAxes('panel-e','clip-e',{left:902.3,right:1191.7,top:10,bottom:566.7},[0.133,2.826],[9.541,20.19]);
  cmdHeatRowVals.forEach((vals,j)=>vals.forEach((d,i)=>{
    const c=cmdHeatRowColor[j]+i*cmdHeatDcolor;
    heatCell(ax,c,c+cmdHeatDcolor,cmdHeatRowG[j],cmdHeatRowG[j]+cmdHeatDg,d);
  }));
  bandPolygon(ax,cmdBandG,cmdBandLeft,cmdBandRight,.95);
  rowsCluster(ax,cmdCluster);
  rowsCluster(ax,cmdClusterExtra);
  cmdField.forEach(p=>fieldStar(ax,p[0],p[1]));
  frameAndTicks(ax,cmdXTicks,cmdXLabels,cmdYTicks,cmdYLabels,584,898);
})();
</script>
</body>
</html>
